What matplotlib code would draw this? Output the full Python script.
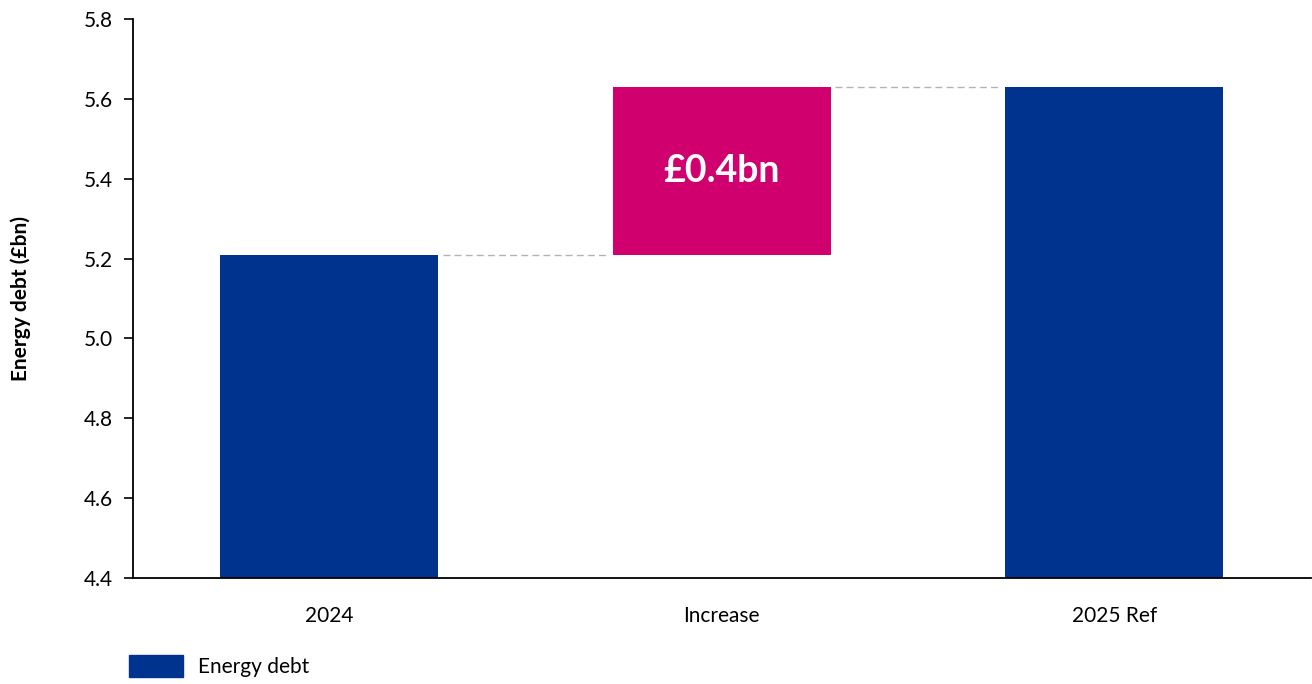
import matplotlib.pyplot as plt
from matplotlib.patches import Patch

plt.rcParams['font.family'] = ['Lato', 'DejaVu Sans']

# waterfall data (£bn)
categories = ['2024', 'Increase', '2025 Ref']
start_value = 5.21
increase = 0.42
end_value = 5.63
increase_label = '£0.4bn'

blue = '#00338D'
pink = '#D0006F'

fig = plt.figure(figsize=(13.12, 6.84), dpi=100)
ax = fig.add_axes([133 / 1312, 1 - 578 / 684, 1177.5 / 1312, (578 - 19) / 684])

x = [0, 1, 2]
w = 0.555
ax.bar(x[0], start_value - 4.4, bottom=4.4, width=w, color=blue)
ax.bar(x[1], increase, bottom=start_value, width=w, color=pink)
ax.bar(x[2], end_value - 4.4, bottom=4.4, width=w, color=blue)

ax.text(x[1], start_value + increase / 2, increase_label, ha='center', va='center',
        color='white', fontsize=27, fontweight='bold')

# connectors between bars
gap = 0.012
ax.plot([x[0] + w / 2 + gap, x[1] - w / 2 - gap], [start_value, start_value],
        ls=(0, (5, 3)), color='#b3b3b3', lw=1)
ax.plot([x[1] + w / 2 + gap, x[2] - w / 2 - gap], [end_value, end_value],
        ls=(0, (5, 3)), color='#b3b3b3', lw=1)

ax.set_xlim(-0.5, 2.5)
ax.set_ylim(4.4, 5.8)
ax.set_yticks([4.4, 4.6, 4.8, 5.0, 5.2, 5.4, 5.6, 5.8])
ax.set_yticklabels(['4.4', '4.6', '4.8', '5.0', '5.2', '5.4', '5.6', '5.8'])
ax.set_xticks(x)
ax.set_xticklabels(categories)
ax.tick_params(axis='y', length=6.5, width=1.2, labelsize=15, pad=8)
ax.tick_params(axis='x', length=0, labelsize=15, pad=20)
for s in ['top', 'right']:
    ax.spines[s].set_visible(False)
for s in ['left', 'bottom']:
    ax.spines[s].set_linewidth(1.3)
ax.set_ylabel('Energy debt (£bn)', fontsize=15, fontweight='bold', labelpad=38)

leg = fig.legend(handles=[Patch(color=blue, label='Energy debt')], loc='lower left',
                 bbox_to_anchor=(110 / 1312, -0.017), frameon=False, fontsize=15,
                 handlelength=2.6, handleheight=1.2, handletextpad=0.7)

fig.savefig('out.png', dpi=100)
